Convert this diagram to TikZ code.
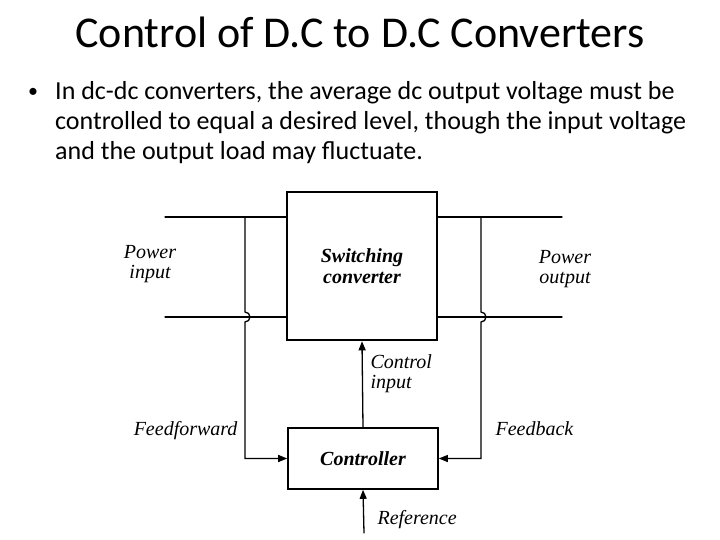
\documentclass[tikz,border=0pt]{standalone}
\usepackage{fontspec}
\setmainfont{Carlito}
\newfontfamily\diagfont{Liberation Serif}
\usetikzlibrary{arrows.meta,calc}

\tikzset{
  block/.style={draw,line width=1.6pt,minimum width=150pt,align=center,
    font=\diagfont\bfseries\itshape\fontsize{20}{21}\selectfont},
  lbl/.style={align=left,font=\diagfont\itshape\fontsize{20}{20}\selectfont},
  wire/.style={line width=1.3pt},
}

\begin{document}
\begin{tikzpicture}[x=1pt,y=-1pt,>={Triangle[length=9pt,width=7pt]},line cap=round]
\useasboundingbox (0,0) rectangle (720,540);
% title and text
\node[font=\fontsize{44}{50}\selectfont] (title) at (360,32) {Control of D.C to D.C Converters};
\node[font=\fontsize{20}{30}\selectfont] (bul) at (33,93) {\textbullet};
\node[anchor=north west,align=left,inner sep=0pt,font=\fontsize{26}{30}\selectfont] (body) at (55,81) {In dc-dc converters, the average dc output voltage must be\\
controlled to equal a desired level, though the input voltage\\
and the output load may fluctuate.};
% blocks
\node[block,line width=2.6pt,minimum height=148pt] (sw) at (362,266) {Switching\\converter};
\node[block,minimum height=61pt] (ctl) at (363,458.5) {Controller};
% wire ends
\coordinate (pin1) at (165,217);
\coordinate (pin2) at (165,317);
\coordinate (pout1) at (562,217);
\coordinate (pout2) at (562,317);
\coordinate (ff) at (245,217);
\coordinate (fb) at (481,217);
\coordinate (ref) at (364,533);
% power lines
\draw[wire] (pin1) -- (pin1 -| sw.west);
\draw[wire] (pin2) -- (pin2 -| sw.west);
\draw[wire] (sw.east |- pout1) -- (pout1);
\draw[wire] (sw.east |- pout2) -- (pout2);
% feedforward and feedback
\draw[wire,->] (ff) -- ($(ff |- pin2)+(0,-5)$) arc[start angle=270,end angle=450,radius=5] |- (ctl.west);
\draw[wire,->] (fb) -- ($(fb |- pout2)+(0,-5)$) arc[start angle=270,end angle=450,radius=5] |- (ctl.east);
\draw[wire,->] (ctl.north) -- (sw.south);
\draw[wire,->] (ref) -- (ctl.south);
% labels
\node[lbl,align=center] (lpin) at (150,264) {Power\\input};
\node[lbl,align=center] (lpout) at (565,269) {Power\\output};
\node[lbl,anchor=west] (lcin) at (367,374) {Control\\input};
\node[lbl,anchor=east] (lff) at (241,431) {Feedforward};
\node[lbl,anchor=west] (lfb) at (492,429) {Feedback};
\node[lbl,anchor=west] (lref) at (374,520) {Reference};
\end{tikzpicture}
\end{document}
